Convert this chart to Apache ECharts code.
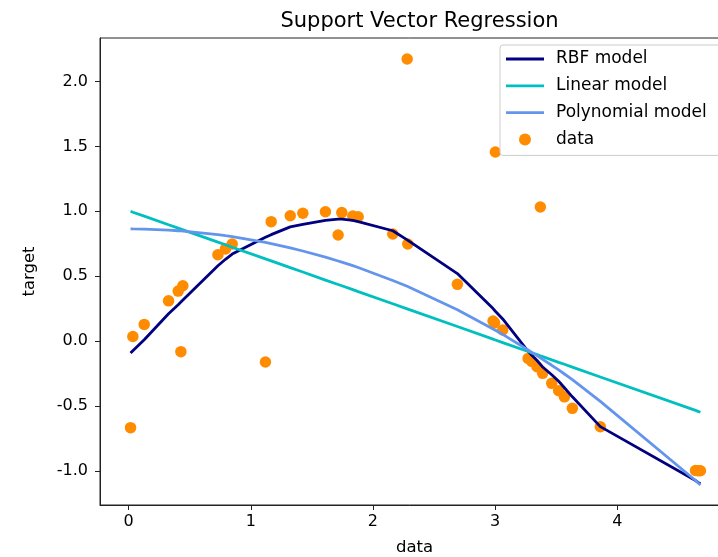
<!DOCTYPE html>
<html>
<head>
<meta charset="utf-8">
<script src="https://cdn.jsdelivr.net/npm/echarts@6/dist/echarts.min.js"></script>
<style>
html,body{margin:0;padding:0;background:#fff;}
#chart{width:718px;height:557px;}
</style>
</head>
<body>
<div id="chart"></div>
<script>
const xValues = [0.016,0.035,0.128,0.327,0.406,0.428,0.444,0.731,0.793,0.848,1.12,1.167,1.323,1.426,1.611,1.715,1.745,1.835,1.879,2.162,2.28,2.285,2.691,2.983,2.995,3.002,3.062,3.27,3.30,3.343,3.37,3.389,3.463,3.52,3.567,3.632,3.861,4.64,4.66,4.68];
const targetValues = [-0.668,0.035,0.128,0.31,0.385,-0.082,0.426,0.665,0.71,0.748,-0.162,0.92,0.966,0.985,0.997,0.817,0.99,0.964,0.958,0.825,2.174,0.748,0.437,0.154,0.14,1.457,0.085,-0.134,-0.158,-0.198,1.033,-0.249,-0.326,-0.383,-0.43,-0.519,-0.661,-0.998,-1.0,-1.0];
const rbfValues = [-0.093,-0.075,0.01,0.21,0.28,0.30,0.315,0.58,0.63,0.67,0.80,0.82,0.88,0.90,0.93,0.94,0.94,0.93,0.92,0.85,0.78,0.775,0.52,0.25,0.24,0.23,0.17,-0.08,-0.11,-0.15,-0.18,-0.20,-0.26,-0.31,-0.36,-0.43,-0.66,-1.075,-1.09,-1.10];
const linearValues = [1.000,0.993,0.963,0.896,0.870,0.863,0.858,0.762,0.742,0.723,0.633,0.618,0.566,0.532,0.470,0.436,0.426,0.396,0.381,0.287,0.248,0.246,0.112,0.015,0.011,0.008,-0.012,-0.081,-0.091,-0.105,-0.114,-0.120,-0.145,-0.164,-0.179,-0.201,-0.277,-0.535,-0.542,-0.549];
const polyValues = [0.865,0.864,0.862,0.855,0.85,0.849,0.848,0.82,0.812,0.805,0.76,0.751,0.718,0.694,0.647,0.617,0.608,0.581,0.567,0.467,0.422,0.42,0.241,0.093,0.087,0.083,0.051,-0.069,-0.087,-0.113,-0.129,-0.141,-0.187,-0.223,-0.254,-0.297,-0.465,-1.075,-1.093,-1.11];
const xTicks = [0,1,2,3,4];
const yTicks = [-1.0,-0.5,0.0,0.5,1.0,1.5,2.0];

const pair = (ys) => xValues.map((x, i) => [x, ys[i]]);
const font = 'DejaVu Sans';
const chart = echarts.init(document.getElementById('chart'), null, {renderer: 'canvas'});
const linePath = 'path://M0,0L40,0L40,3L0,3Z';
chart.setOption({
  animation: false,
  backgroundColor: '#fff',
  title: {
    text: 'Support Vector Regression',
    left: 414.5, top: 6, textAlign: 'center',
    textStyle: {fontFamily: font, fontSize: 21, fontWeight: 'normal', color: '#000'}
  },
  grid: {left: 100, top: 38, width: 629, height: 467, outerBoundsMode: 'none', show: true, borderColor: '#222', borderWidth: 1, backgroundColor: 'transparent'},
  legend: {
    orient: 'vertical', left: 500, top: 45,
    itemWidth: 38, itemHeight: 12, itemGap: 8.8,
    padding: [5, 22, 7, 6],
    backgroundColor: 'rgba(255,255,255,0.8)', borderColor: '#ccc', borderWidth: 1, borderRadius: 3,
    symbolKeepAspect: true,
    textStyle: {fontFamily: font, fontSize: 17, color: '#000', lineHeight: 18, padding: [0, 0, 0, 7]},
    data: [
      {name: 'RBF model', icon: linePath},
      {name: 'Linear model', icon: linePath},
      {name: 'Polynomial model', icon: linePath},
      {name: 'data', icon: 'circle'}
    ]
  },
  xAxis: {
    type: 'value', min: -0.234, max: 4.914,
    name: 'data', nameLocation: 'middle', nameGap: 34,
    nameTextStyle: {fontFamily: font, fontSize: 16.5, color: '#000'},
    axisLine: {onZero: false, lineStyle: {color: '#222', width: 1}},
    axisTick: {show: true, length: 5, customValues: xTicks, lineStyle: {color: '#222'}},
    axisLabel: {customValues: xTicks, margin: 9, fontFamily: font, fontSize: 16, color: '#000', formatter: v => String(v)},
    splitLine: {show: false}
  },
  yAxis: {
    type: 'value', min: -1.264, max: 2.336,
    name: 'target', nameLocation: 'middle', nameGap: 62, nameRotate: 90,
    nameTextStyle: {fontFamily: font, fontSize: 16.5, color: '#000'},
    axisLine: {onZero: false, lineStyle: {color: '#222', width: 1}},
    axisTick: {show: true, length: 5, customValues: yTicks, lineStyle: {color: '#222'}},
    axisLabel: {customValues: yTicks, margin: 12, fontFamily: font, fontSize: 16, color: '#000', formatter: v => v.toFixed(1)},
    splitLine: {show: false}
  },
  series: [
    {name: 'data', type: 'scatter', data: pair(targetValues), symbolSize: 11.5, itemStyle: {color: '#ff8c00', opacity: 1}, z: 1},
    {name: 'RBF model', type: 'line', data: pair(rbfValues), showSymbol: false, symbol: 'none', lineStyle: {color: '#000080', width: 2.8}, itemStyle: {color: '#000080'}, z: 2},
    {name: 'Linear model', type: 'line', data: pair(linearValues), showSymbol: false, symbol: 'none', lineStyle: {color: '#00bfbf', width: 2.8}, itemStyle: {color: '#00bfbf'}, z: 3},
    {name: 'Polynomial model', type: 'line', data: pair(polyValues), showSymbol: false, symbol: 'none', lineStyle: {color: '#6495ed', width: 2.8}, itemStyle: {color: '#6495ed'}, z: 4}
  ]
});
</script>
</body>
</html>
